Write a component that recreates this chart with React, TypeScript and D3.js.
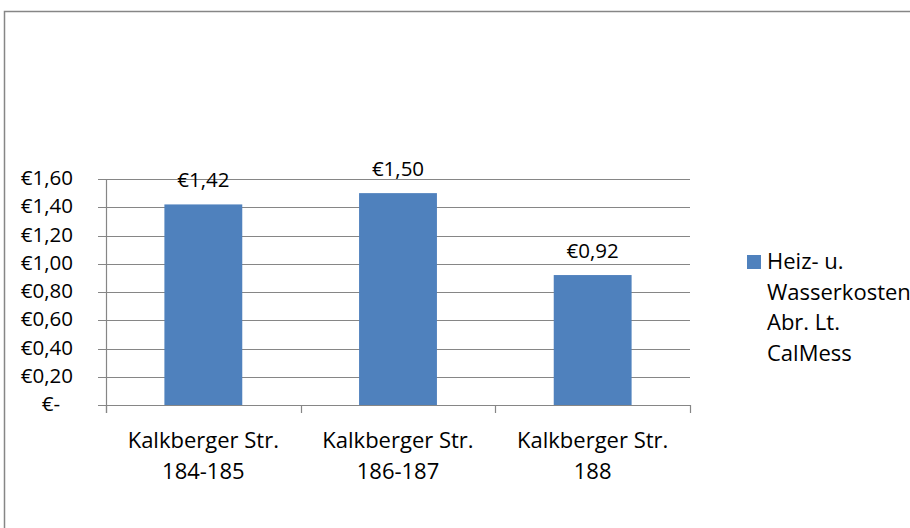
import React, { useRef, useEffect } from "react";
import * as d3 from "d3";

const categories = ["Kalkberger Str.|184-185", "Kalkberger Str.|186-187", "Kalkberger Str.|188"];
const values = [1.42, 1.5, 0.92];
const valueLabels = ["€1,42", "€1,50", "€0,92"];
const yTicks = [0, 0.2, 0.4, 0.6, 0.8, 1.0, 1.2, 1.4, 1.6];
const yTickLabels = ["€-", "€0,20", "€0,40", "€0,60", "€0,80", "€1,00", "€1,20", "€1,40", "€1,60"];
const legendLines = ["Heiz- u.", "Wasserkosten", "Abr. Lt.", "CalMess"];

const App = () => {
  const svgRef = useRef<SVGSVGElement>(null);

  useEffect(() => {
    const width = 910;
    const height = 528;
    const font = "'Open Sans', 'Noto Sans', sans-serif";
    const fsNum = 20.5;
    const fsText = 22;
    const left = 106, right = 690, top = 179, bottom = 405;

    const svg = d3.select(svgRef.current)
      .attr("width", width)
      .attr("height", height)
      .style("display", "block")
      .style("position", "absolute")
      .style("left", 0)
      .style("top", 0);
    svg.selectAll("*").remove();

    svg.append("rect")
      .attr("width", width).attr("height", height).attr("fill", "#fff");

    // outer chart border (runs off right / bottom)
    svg.append("rect")
      .attr("x", 4.5).attr("y", 11.5)
      .attr("width", 920).attr("height", 530)
      .attr("fill", "none").attr("stroke", "#868686").attr("stroke-width", 1.5);

    const x = d3.scaleBand().domain(categories).range([left, right]).paddingInner(0.6).paddingOuter(0.3);
    const xb = d3.scaleBand().domain(categories).range([left, right]);
    const y = d3.scaleLinear().domain([0, 1.6]).range([bottom, top]);

    // gridlines + tick marks
    svg.selectAll("line.grid")
      .data(yTicks)
      .enter().append("line")
      .attr("x1", left - 8).attr("x2", right)
      .attr("y1", d => Math.round(y(d)) + 0.5).attr("y2", d => Math.round(y(d)) + 0.5)
      .attr("stroke", "#868686").attr("stroke-width", 1.2);

    svg.append("line")
      .attr("x1", left + 0.5).attr("x2", left + 0.5)
      .attr("y1", top).attr("y2", bottom + 8)
      .attr("stroke", "#868686").attr("stroke-width", 1.2);

    const xTicks = categories.map(c => xb(c)!).concat([right]);
    svg.selectAll("line.xtick")
      .data(xTicks)
      .enter().append("line")
      .attr("x1", d => Math.round(d) + 0.5).attr("x2", d => Math.round(d) + 0.5)
      .attr("y1", bottom).attr("y2", bottom + 8)
      .attr("stroke", "#868686").attr("stroke-width", 1.2);

    svg.selectAll("text.ylab")
      .data(yTicks)
      .enter().append("text")
      .attr("x", d => (d === 0 ? 60 : 73))
      .attr("y", d => y(d) + 6)
      .attr("text-anchor", "end")
      .attr("font-family", font).attr("font-size", fsNum).attr("fill", "#000")
      .text((d, i) => yTickLabels[i]);

    svg.selectAll("rect.bar")
      .data(values)
      .enter().append("rect")
      .attr("x", (d, i) => x(categories[i])!)
      .attr("width", x.bandwidth())
      .attr("y", d => y(d))
      .attr("height", d => bottom - y(d))
      .attr("fill", "#4F81BD");

    svg.selectAll("text.vlab")
      .data(values)
      .enter().append("text")
      .attr("x", (d, i) => x(categories[i])! + x.bandwidth() / 2)
      .attr("y", d => y(d) - 17)
      .attr("text-anchor", "middle")
      .attr("font-family", font).attr("font-size", fsNum).attr("fill", "#000")
      .text((d, i) => valueLabels[i]);

    categories.forEach(c => {
      const [l1, l2] = c.split("|");
      const cx = xb(c)! + xb.bandwidth() / 2;
      const t = svg.append("text")
        .attr("text-anchor", "middle")
        .attr("font-family", font).attr("font-size", fsText).attr("fill", "#000");
      t.append("tspan").attr("x", cx).attr("y", 448).text(l1);
      t.append("tspan").attr("x", cx).attr("y", 479).text(l2);
    });

    svg.append("rect")
      .attr("x", 747).attr("y", 255).attr("width", 14).attr("height", 14)
      .attr("fill", "#4F81BD");
    svg.selectAll("text.leg")
      .data(legendLines)
      .enter().append("text")
      .attr("x", 767)
      .attr("y", (d, i) => 269 + i * 30.5)
      .attr("font-family", font).attr("font-size", fsText).attr("fill", "#000")
      .text(d => d);
  }, []);

  return <svg ref={svgRef} />;
};

export default App;
